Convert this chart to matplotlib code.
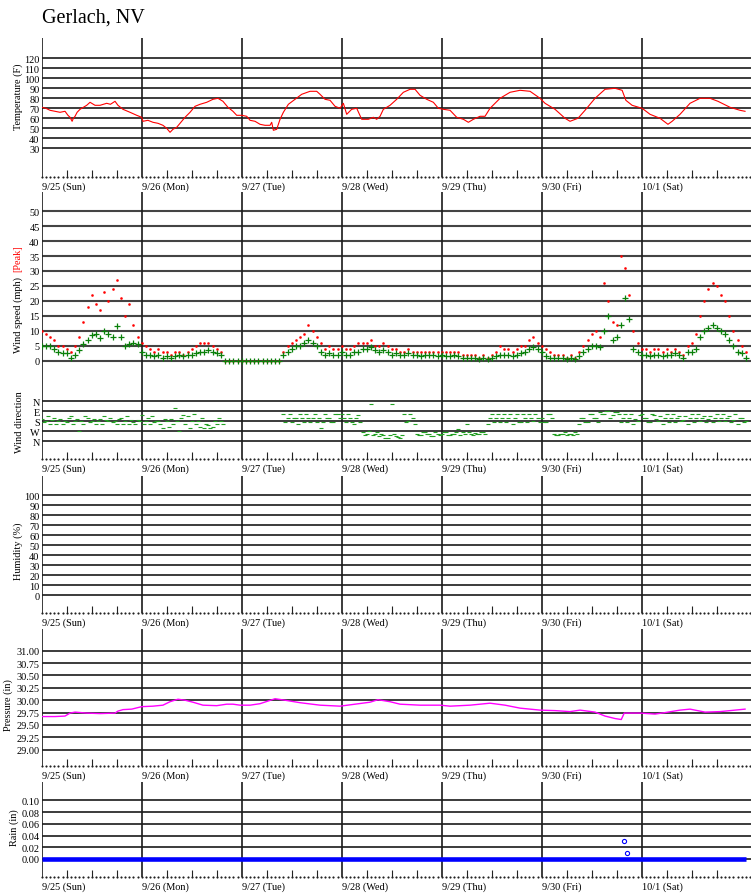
import numpy as np
import matplotlib
matplotlib.use('Agg')
import matplotlib.pyplot as plt

plt.rcParams['font.family'] = ['Liberation Serif', 'DejaVu Serif']

W, H = 751, 895
LEFT = 41.7
DAY_PX = 100.0

day_labels = ['9/25 (Sun)', '9/26 (Mon)', '9/27 (Tue)', '9/28 (Wed)',
              '9/29 (Thu)', '9/30 (Fri)', '10/1 (Sat)']

# temperature (hours since 9/25 00:00, deg F)
temp_hours = [0, 1, 2, 3.2, 4.4, 5.6, 6.3, 6.8, 7.3, 7.6, 8.0, 8.5, 9.2, 10.0, 10.8, 11.6, 12.8,
              14.0, 15.6, 16.5, 17.6, 18.3, 19.5, 21.2, 22.8, 24.0,
              24.3, 25.5, 26.7, 27.9, 29.1, 30.0, 30.8, 31.5, 32.4, 33.2, 34.4, 35.6, 36.8, 38.0,
              39.6, 41.1, 42.3, 43.5, 44.7, 45.9, 46.8, 48.0, 49.2, 50.0,
              51.2, 52.4, 53.6, 54.8, 55.2, 55.6, 56.4, 57.2, 58.0, 59.2, 60.8, 62.4, 64.4, 66.0,
              66.8, 68.0, 69.2, 70.4, 71.6,
              72.4, 73.2, 74.4, 75.6, 76.8, 78.4, 79.6, 80.4, 81.2, 82.0, 83.6, 85.2, 86.8, 88.4,
              89.6, 90.8, 92.4, 94.0, 95.2, 96.4,
              98.0, 99.6, 101.2, 102.4, 103.6, 105.2, 106.4, 107.6, 110.0, 112.4, 114.8, 117.2, 119.6,
              120.8, 123.2, 125.6, 126.8, 128.7, 130.4, 132.8, 135.2, 137.6, 139.3, 140.2, 141.7, 144.1,
              146.0, 148.4, 150.3, 151.3, 153.2, 155.6, 158.0, 160.4, 162.3, 165.2, 167.6, 168.8]
temp_f = [71, 70, 68, 67, 66, 67, 63, 61, 57, 60, 62, 66, 69, 71, 73, 76, 73,
          73, 75, 74, 77, 73, 69, 66, 63, 61,
          57, 58, 56, 55, 53, 50, 46, 49, 51, 55, 61, 66, 72, 74,
          76, 79, 80, 77, 71, 67, 63, 63, 62, 58,
          57, 54, 53, 53, 56, 48, 49, 59, 66, 74, 79, 84, 87, 87,
          84, 79, 78, 72, 70,
          75, 64, 69, 70, 59, 59, 61, 59, 62, 69, 73, 79, 86, 89,
          89, 83, 79, 76, 70, 69,
          68, 61, 59, 56, 59, 62, 62, 70, 80, 86, 88, 87, 80,
          75, 69, 60, 57, 60, 68, 80, 89, 90, 88, 78, 73, 70,
          64, 60, 54, 57, 64, 75, 80, 80, 77, 71, 68, 67]

# hourly wind, from 9/25 00:00
wind_mph = [5, 5, 5, 4, 3, 2.5, 2.5, 1, 2, 3.5, 5.5, 7, 8.5, 9, 7.5, 10, 9, 8, 11.5, 8, 5, 5.5, 6, 5.5,
            3, 2, 2, 1.5, 2, 1, 1.5, 1, 1.5, 2, 1.5, 2, 2, 2.5, 3, 3, 3.5, 3, 2.5, 2, 0, 0, 0, 0,
            0, 0, 0, 0, 0, 0, 0, 0, 0, 0, 2, 3, 4, 5, 5, 6, 7, 6, 5, 3, 2, 2.5, 2, 2,
            3, 2, 2, 3, 3, 4, 4, 4.5, 3.5, 3, 3.5, 3, 2, 2.5, 2, 2, 2.5, 2, 2, 1.5, 2, 2, 2, 1.5,
            2, 1.5, 1.5, 2, 1.5, 1, 1, 1, 1, 0.5, 1, 0.5, 1, 1.5, 2, 2, 2, 1.5, 2, 2.5, 3, 4, 4.5, 4,
            3, 1.5, 1, 1, 1, 1, 0.5, 1, 0.5, 1.5, 3, 4, 5, 5, 4.5, 10, 15, 7, 8, 12, 21, 14, 4, 3,
            2, 2, 1.5, 2, 2, 1.5, 2, 2, 2.5, 2, 1, 3, 3, 4, 8, 10, 11, 12, 11, 10, 9, 7, 5, 3, 2.5, 1]
peak_mph = [10, 9, 8, 7, 5, 5, 4, 3, 5, 8, 13, 18, 22, 19, 17, 23, 20, 24, 27, 21, 15, 19, 12, 8,
            6, 5, 4, 3, 4, 3, 3, 2, 3, 3, 2, 3, 4, 5, 6, 6, 6, 5, 4, 3, 0, 0, 0, 0,
            0, 0, 0, 0, 0, 0, 0, 0, 0, 0, 3, 5, 6, 7, 8, 9, 12, 10, 8, 6, 4, 5, 4, 4,
            5, 4, 4, 5, 6, 6, 6, 7, 5, 5, 6, 5, 4, 4, 3, 3, 4, 3, 3, 3, 3, 3, 3, 3,
            3, 3, 3, 3, 3, 2, 2, 2, 2, 1, 2, 1, 2, 3, 5, 4, 4, 3, 4, 5, 5, 7, 8, 6,
            5, 4, 3, 2, 2, 2, 1, 2, 1, 3, 5, 7, 9, 10, 8, 26, 20, 13, 12, 35, 31, 22, 10, 6,
            4, 4, 3, 4, 4, 3, 4, 3, 4, 3, 2, 5, 6, 9, 15, 20, 24, 26, 25, 22, 20, 15, 10, 7, 5, 3]
# direction in degrees on the hour, and on the half hour (None = calm)
wind_dir = [160, 180, 200, 150, 180, 205, 190, 130, 180, 270, 200, 150, 180, 200, 160, 130, 180, 190,
            200, 150, 180, 200, 190, 170,
            120, 180, 200, 190, 175, 240, 180, 160, 60, 270, 120, 130, 180, 200, 230, 240, 210, 230,
            200, 180, None, None, None, None,
            None, None, None, None, None, None, None, None, None, None, 110, 150, 190, 150, 110, 190,
            150, 150, 190, 240, 110, 150, 190, 110,
            110, 190, 150, 200, 120, 280, 290, 20, 290, 310, 300, 330, 20, 310, 330, 110, 180, 150,
            290, 300, 280, 290, 310, 290,
            290, 280, 300, 290, 250, 280, 200, 290, 285, 290, 280, 200, 110, 150, 190, 110, 150, 200,
            110, 190, 150, 110, 180, 150,
            150, 190, 110, 290, 300, 290, 300, 290, 280, 200, 150, 190, 110, 150, 100, 110, 90, 120,
            100, 190, 110, 150, 200, 180,
            110, 150, 190, 120, 180, 200, 110, 150, 190, 130, 170, 200, 110, 150, 180, 130, 160, 190,
            110, 150, 180, 130, 170, 200, 150, 180]
wind_dir_half = [190, 130, 170, 200, 160, 180, 150, 200, 160, 180, 130, 190, 160, 180, 200, 170,
                 150, 180, 160, 200, 130, 170, 200, 180,
                 200, 150, 130, 180, 200, 160, 230, 200, 180, 150, 200, 240, 110, 180, 150, 200,
                 240, 180, 150, 200, None, None, None, None,
                 None, None, None, None, None, None, None, None, None, None, 190, 110, 150, 200,
                 150, 110, 190, 110, 150, 190, 150, 190, 110, 150,
                 150, 110, 190, 150, 190, 300, 270, 300, 280, 290, 330, 300, 290, 320, 300, 190,
                 110, 200, 300, 280, 290, 310, 280, 300,
                 280, 300, 290, 280, 300, 290, 280, 300, 290, 280, 290, 150, 190, 110, 150, 190,
                 110, 150, 190, 110, 190, 150, 110, 190,
                 190, 110, 150, 300, 290, 280, 290, 300, 290, 150, 190, 110, 150, 190, 110, 90,
                 150, 100, 110, 150, 190, 110, 160, 120,
                 150, 190, 110, 160, 130, 150, 190, 110, 150, 180, 130, 150, 190, 110, 150, 190,
                 130, 150, 180, 110, 150, 190, 110, 150, 190, None]

# pressure (hours, inHg)
pres_hours = [0, 3.2, 5.6, 6.8, 8.0, 10.8, 14.0, 17.6, 18.3, 19.5, 21.6, 24.0, 26.7, 29.1, 30.8,
              32.7, 34.4, 36.3, 38.7, 42.0, 44.4, 45.9, 47.6, 50.0, 52.4, 56.0, 58.4, 62.0, 66.8,
              71.6, 75.2, 78.8, 80.7, 83.6, 86.0, 90.8, 95.6, 98.0, 102.8, 107.6, 111.2, 114.8,
              119.6, 123.2, 126.8, 129.2, 132.8, 135.2, 137.6, 139.1, 139.8, 143.6, 147.2, 149.6,
              153.2, 155.6, 159.2, 162.8, 166.4, 168.8]
pres_in = [29.67, 29.67, 29.68, 29.74, 29.76, 29.74, 29.73, 29.74, 29.78, 29.81, 29.82, 29.87,
           29.88, 29.90, 29.97, 30.02, 30.00, 29.96, 29.90, 29.89, 29.92, 29.92, 29.90, 29.90,
           29.93, 30.03, 30.00, 29.95, 29.90, 29.88, 29.92, 29.96, 30.01, 29.97, 29.92, 29.90,
           29.90, 29.88, 29.90, 29.94, 29.90, 29.84, 29.80, 29.79, 29.77, 29.80, 29.76, 29.68,
           29.63, 29.61, 29.74, 29.74, 29.72, 29.75, 29.80, 29.82, 29.76, 29.77, 29.80, 29.82]

# hourly rain readings, plus the two non-zero readings
rain_in = [0, 0, 0, 0, 0, 0, 0, 0, 0, 0, 0, 0, 0, 0, 0, 0, 0, 0, 0, 0, 0, 0, 0, 0,
           0, 0, 0, 0, 0, 0, 0, 0, 0, 0, 0, 0, 0, 0, 0, 0, 0, 0, 0, 0, 0, 0, 0, 0,
           0, 0, 0, 0, 0, 0, 0, 0, 0, 0, 0, 0, 0, 0, 0, 0, 0, 0, 0, 0, 0, 0, 0, 0,
           0, 0, 0, 0, 0, 0, 0, 0, 0, 0, 0, 0, 0, 0, 0, 0, 0, 0, 0, 0, 0, 0, 0, 0,
           0, 0, 0, 0, 0, 0, 0, 0, 0, 0, 0, 0, 0, 0, 0, 0, 0, 0, 0, 0, 0, 0, 0, 0,
           0, 0, 0, 0, 0, 0, 0, 0, 0, 0, 0, 0, 0, 0, 0, 0, 0, 0, 0, 0, 0, 0, 0, 0,
           0, 0, 0, 0, 0, 0, 0, 0, 0, 0, 0, 0, 0, 0, 0, 0, 0, 0, 0, 0, 0, 0, 0, 0, 0, 0]
rain_event_hours = [139.8, 140.5]
rain_event_in = [0.03, 0.01]

temp_ticks = [30, 40, 50, 60, 70, 80, 90, 100, 110, 120]
wind_ticks = [0, 5, 10, 15, 20, 25, 30, 35, 40, 45, 50]
dir_ticks = [0, 90, 180, 270, 360]
dir_labels = ['N', 'E', 'S', 'W', 'N']
hum_ticks = [0, 10, 20, 30, 40, 50, 60, 70, 80, 90, 100]
pres_ticks = [29.00, 29.25, 29.50, 29.75, 30.00, 30.25, 30.50, 30.75, 31.00]
rain_ticks = [0.00, 0.02, 0.04, 0.06, 0.08, 0.10]

fig = plt.figure(figsize=(W / 100, H / 100), dpi=100)
XMAX = (W - LEFT) / DAY_PX


def panel(top, bottom, ylim, ticks, labels=None, grid_color='#1a1a1a', grid_lw=1.2):
    ax = fig.add_axes([LEFT / W, 1 - bottom / H, (W - LEFT) / W, (bottom - top) / H])
    for s in ax.spines.values():
        s.set_visible(False)
    for v in ticks:
        ax.axhline(v, color=grid_color, lw=grid_lw, zorder=1)
    for d in range(7):
        ax.axvline(d, color='#1a1a1a', lw=1.2, zorder=1)
    ax.set_yticks(ticks)
    ax.set_yticklabels(labels if labels else [str(t) for t in ticks])
    ax.tick_params(axis='y', length=0, pad=1.5, labelsize=7.4)
    ax.set_xticks([])
    ax.set_xlim(0, XMAX)
    ax.set_ylim(*ylim)
    return ax


def day_axis(ax):
    ax.set_xticks(range(7))
    ax.set_xticklabels(day_labels, ha='left')
    minor = [d + q for d in range(8) for q in (0.25, 0.5, 0.75) if d + q < XMAX]
    ax.set_xticks(minor, minor=True)
    ax.tick_params(axis='x', which='major', length=0, pad=3.5, labelsize=7.4)
    ax.tick_params(axis='x', which='minor', direction='in', length=5, width=0.8, color='#222')
    hrs = np.arange(0, XMAX, 1 / 24)
    ax.plot(hrs, np.zeros(len(hrs)), transform=ax.get_xaxis_transform(), ls='none',
            marker='s', ms=0.55, color='#222', clip_on=False)
    ax.set_xlim(0, XMAX)


def ylabel(text, x, y, color='black'):
    fig.text(x / W, 1 - y / H, text, rotation=90, ha='center', va='center',
             fontsize=7.4, color=color)


fig.text(42 / W, 1 - 18 / H, 'Gerlach, NV', fontsize=14.5, ha='left', va='center')

# temperature
ax = panel(39, 178, (1.3, 140.3), temp_ticks)
ax.plot(np.array(temp_hours) / 24, temp_f, color='#ff0000', lw=0.8, zorder=3)
day_axis(ax)
ylabel('Temperature (F)', 18, 97)

# wind speed
ax = panel(193, 372, (-3.44, 56.4), wind_ticks, grid_color='#444', grid_lw=1.5)
wh = np.arange(len(wind_mph)) / 24
ax.plot(wh, peak_mph, ls='none', marker='s', ms=0.8, color='#ff0000', zorder=3)
ax.plot(wh, wind_mph, ls='none', marker='+', ms=4.5, mew=0.9, color='#0a800a', zorder=4)
ax.set_xlim(0, XMAX)
ylabel('Wind speed (mph)', 18, 315)
ylabel('[Peak]', 18, 259, color='#ff0000')

# wind direction
ax = panel(372, 460, (519, -273), dir_ticks, dir_labels)
for offset, series in ((0.0, wind_dir), (0.5, wind_dir_half)):
    dh = (np.arange(len(series)) + offset) / 24
    dv = np.array([np.nan if d is None else d for d in series], dtype=float)
    ax.plot(dh, dv, ls='none', marker='_', ms=2.5, mew=0.8, color='#22a022', zorder=3)
day_axis(ax)
ylabel('Wind direction', 19, 422)

# humidity (no readings)
ax = panel(477, 614, (-18, 119), hum_ticks)
day_axis(ax)
ylabel('Humidity (%)', 18, 551)

# pressure
ax = panel(630, 767, (28.671, 31.439), pres_ticks, ['%.2f' % p for p in pres_ticks])
ax.plot(np.array(pres_hours) / 24, pres_in, color='#ff00ff', lw=1.0, zorder=3)
day_axis(ax)
ylabel('Pressure (in)', 8.5, 705)

# rain
ax = panel(783, 878, (-0.0307, 0.1312), rain_ticks, ['%.2f' % r for r in rain_ticks])
rh = np.arange(len(rain_in)) / 24
ax.plot(rh, rain_in, color='#0000ff', lw=3.3, solid_capstyle='butt', zorder=3)
ax.plot(np.array(rain_event_hours) / 24, rain_event_in, ls='none', marker='o', ms=3,
        mfc='none', mec='#0000ff', mew=0.8, zorder=3)
day_axis(ax)
ylabel('Rain (in)', 14, 828)

fig.savefig('out.png', dpi=100)
